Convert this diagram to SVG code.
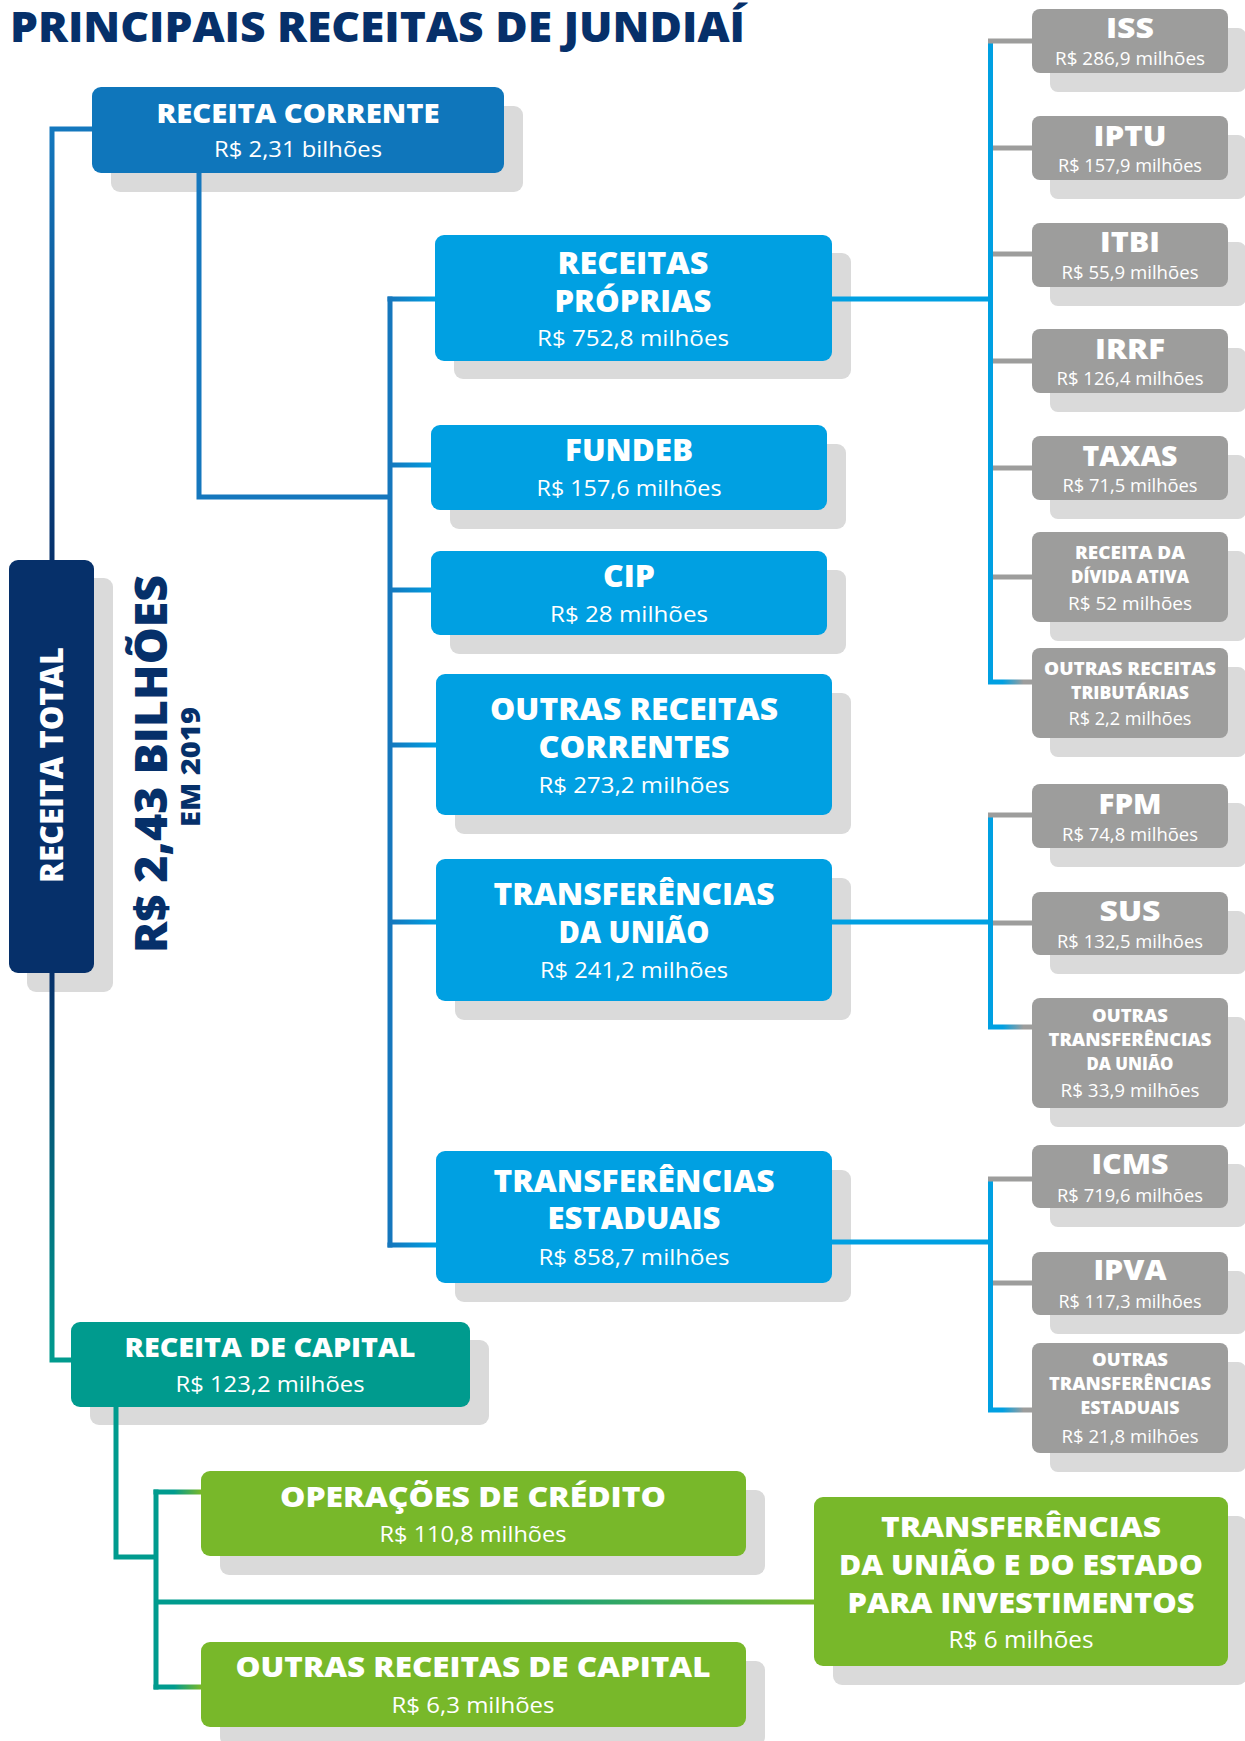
<svg xmlns="http://www.w3.org/2000/svg" width="1245" height="1741" viewBox="0 0 1245 1741">
  <defs>
    <linearGradient id="gMainTop" gradientUnits="userSpaceOnUse" x1="0" y1="129" x2="0" y2="561">
      <stop offset="0" stop-color="#1478be"/>
      <stop offset="1" stop-color="#06306a"/>
    </linearGradient>
    <linearGradient id="gMainBot" gradientUnits="userSpaceOnUse" x1="0" y1="973" x2="0" y2="1360">
      <stop offset="0" stop-color="#06306a"/>
      <stop offset="1" stop-color="#009b8e"/>
    </linearGradient>
    <linearGradient id="gBranch" gradientUnits="userSpaceOnUse" x1="390" y1="0" x2="436" y2="0">
      <stop offset="0" stop-color="#1577bd"/>
      <stop offset="1" stop-color="#00a0e2"/>
    </linearGradient>
    <linearGradient id="gGreenShort" gradientUnits="userSpaceOnUse" x1="156" y1="0" x2="201" y2="0">
      <stop offset="0.4" stop-color="#009b8e"/>
      <stop offset="1" stop-color="#78b82a"/>
    </linearGradient>
    <linearGradient id="gGreenLong" gradientUnits="userSpaceOnUse" x1="156" y1="0" x2="814" y2="0">
      <stop offset="0.5" stop-color="#009b8e"/>
      <stop offset="1" stop-color="#78b82a"/>
    </linearGradient>
    <linearGradient id="gGreyEnd" gradientUnits="userSpaceOnUse" x1="990" y1="0" x2="1032" y2="0">
      <stop offset="0.3" stop-color="#00a0e2"/>
      <stop offset="0.8" stop-color="#9d9d9c"/>
    </linearGradient>
    <style>
      .ln { fill: none; stroke-width: 5; stroke-linejoin: miter; stroke-linecap: butt; }
      .shadow { fill: #dadada; }
      .navy { fill: #06306a; }
      .corr { fill: #0f76bb; }
      .blue { fill: #00a0e2; }
      .grey { fill: #9d9d9c; }
      .teal { fill: #009b8e; }
      .green { fill: #78b82a; }
      text { font-family: "Open Sans", "Lato", "Liberation Sans", sans-serif; fill: #ffffff; text-anchor: middle; }
      .b { font-weight: 800; }
      .v { font-weight: 400; }
      .tb { font-size: 30px; }
      .tv { font-size: 22.5px; }
      .gb { font-size: 29px; }
      .gs { font-size: 18px; }
      .gv { font-size: 18.5px; }
      .dark { fill: #06306a; }
    </style>
  </defs>

  <!-- heading -->
  <text x="10" y="42" class="b dark" style="font-size:42px;text-anchor:start" textLength="735" lengthAdjust="spacingAndGlyphs">PRINCIPAIS RECEITAS DE JUNDIAÍ</text>

  <!-- total -->
  <g id="receita-total">
    <rect class="shadow" x="27" y="578" width="86" height="414" rx="9"/>
    <rect class="navy" x="9" y="560" width="85" height="413" rx="9"/>
    <text class="b" transform="translate(63,765) rotate(-90)" style="font-size:31px" textLength="236" lengthAdjust="spacingAndGlyphs">RECEITA TOTAL</text>
  </g>
  <g id="total-valor">
    <text class="b dark" transform="translate(167,764) rotate(-90)" style="font-size:44px" textLength="378" lengthAdjust="spacingAndGlyphs">R$ 2,43 BILHÕES</text>
    <text class="b dark" transform="translate(200,767) rotate(-90)" style="font-size:26px" textLength="120" lengthAdjust="spacingAndGlyphs">EM 2019</text>
  </g>

  <g id="receita-corrente">
    <rect class="shadow" x="111" y="106" width="412" height="86" rx="9"/>
    <rect class="corr" x="92" y="87" width="412" height="86" rx="9"/>
    <text class="b" x="298" y="123" style="font-size:27px" textLength="283" lengthAdjust="spacingAndGlyphs">RECEITA CORRENTE</text>
    <text class="v" x="298" y="157" style="font-size:22px" textLength="168" lengthAdjust="spacingAndGlyphs">R$ 2,31 bilhões</text>
  </g>

  <g id="receita-capital">
    <rect class="shadow" x="90" y="1340" width="399" height="85" rx="9"/>
    <rect class="teal" x="71" y="1322" width="399" height="85" rx="9"/>
    <text class="b" x="270" y="1357" style="font-size:27px" textLength="291" lengthAdjust="spacingAndGlyphs">RECEITA DE CAPITAL</text>
    <text class="v" x="270" y="1392" style="font-size:22px" textLength="189" lengthAdjust="spacingAndGlyphs">R$ 123,2 milhões</text>
  </g>

  <!-- current revenue branches -->
  <g id="receitas-proprias">
    <rect class="shadow" x="454" y="253" width="397" height="126" rx="9"/>
    <rect class="blue" x="435" y="235" width="397" height="126" rx="9"/>
    <text class="b tb" x="633" y="274" textLength="151" lengthAdjust="spacingAndGlyphs">RECEITAS</text>
    <text class="b tb" x="633" y="312" textLength="157" lengthAdjust="spacingAndGlyphs">PRÓPRIAS</text>
    <text class="v tv" x="633" y="346" textLength="192" lengthAdjust="spacingAndGlyphs">R$ 752,8 milhões</text>
  </g>
  <g id="fundeb">
    <rect class="shadow" x="450" y="444" width="396" height="85" rx="9"/>
    <rect class="blue" x="431" y="425" width="396" height="85" rx="9"/>
    <text class="b tb" x="629" y="461" textLength="128" lengthAdjust="spacingAndGlyphs">FUNDEB</text>
    <text class="v tv" x="629" y="496" textLength="185" lengthAdjust="spacingAndGlyphs">R$ 157,6 milhões</text>
  </g>
  <g id="cip">
    <rect class="shadow" x="450" y="570" width="396" height="84" rx="9"/>
    <rect class="blue" x="431" y="551" width="396" height="84" rx="9"/>
    <text class="b tb" x="629" y="587" textLength="52" lengthAdjust="spacingAndGlyphs">CIP</text>
    <text class="v tv" x="629" y="622" textLength="158" lengthAdjust="spacingAndGlyphs">R$ 28 milhões</text>
  </g>
  <g id="outras-receitas-correntes">
    <rect class="shadow" x="455" y="693" width="396" height="141" rx="9"/>
    <rect class="blue" x="436" y="674" width="396" height="141" rx="9"/>
    <text class="b tb" x="634" y="720" textLength="288" lengthAdjust="spacingAndGlyphs">OUTRAS RECEITAS</text>
    <text class="b tb" x="634" y="758" textLength="191" lengthAdjust="spacingAndGlyphs">CORRENTES</text>
    <text class="v tv" x="634" y="793" textLength="191" lengthAdjust="spacingAndGlyphs">R$ 273,2 milhões</text>
  </g>
  <g id="transferencias-uniao">
    <rect class="shadow" x="455" y="878" width="396" height="142" rx="9"/>
    <rect class="blue" x="436" y="859" width="396" height="142" rx="9"/>
    <text class="b tb" x="634" y="905" textLength="281" lengthAdjust="spacingAndGlyphs">TRANSFERÊNCIAS</text>
    <text class="b tb" x="634" y="943" textLength="151" lengthAdjust="spacingAndGlyphs">DA UNIÃO</text>
    <text class="v tv" x="634" y="978" textLength="188" lengthAdjust="spacingAndGlyphs">R$ 241,2 milhões</text>
  </g>
  <g id="transferencias-estaduais">
    <rect class="shadow" x="455" y="1170" width="396" height="132" rx="9"/>
    <rect class="blue" x="436" y="1151" width="396" height="132" rx="9"/>
    <text class="b tb" x="634" y="1192" textLength="281" lengthAdjust="spacingAndGlyphs">TRANSFERÊNCIAS</text>
    <text class="b tb" x="634" y="1229" textLength="173" lengthAdjust="spacingAndGlyphs">ESTADUAIS</text>
    <text class="v tv" x="634" y="1265" textLength="191" lengthAdjust="spacingAndGlyphs">R$ 858,7 milhões</text>
  </g>

  <!-- own revenue items -->
  <g id="iss">
    <rect class="shadow" x="1050" y="28" width="196" height="64" rx="8"/>
    <rect class="grey" x="1032" y="9" width="196" height="64" rx="8"/>
    <text class="b gb" x="1130" y="38" textLength="48" lengthAdjust="spacingAndGlyphs">ISS</text>
    <text class="v gv" x="1130" y="65" textLength="150" lengthAdjust="spacingAndGlyphs">R$ 286,9 milhões</text>
  </g>
  <g id="iptu">
    <rect class="shadow" x="1050" y="135" width="196" height="64" rx="8"/>
    <rect class="grey" x="1032" y="116" width="196" height="64" rx="8"/>
    <text class="b gb" x="1130" y="146" textLength="73" lengthAdjust="spacingAndGlyphs">IPTU</text>
    <text class="v gv" x="1130" y="172" textLength="144" lengthAdjust="spacingAndGlyphs">R$ 157,9 milhões</text>
  </g>
  <g id="itbi">
    <rect class="shadow" x="1050" y="242" width="196" height="64" rx="8"/>
    <rect class="grey" x="1032" y="223" width="196" height="64" rx="8"/>
    <text class="b gb" x="1130" y="252" textLength="60" lengthAdjust="spacingAndGlyphs">ITBI</text>
    <text class="v gv" x="1130" y="279" textLength="137" lengthAdjust="spacingAndGlyphs">R$ 55,9 milhões</text>
  </g>
  <g id="irrf">
    <rect class="shadow" x="1050" y="348" width="196" height="64" rx="8"/>
    <rect class="grey" x="1032" y="329" width="196" height="64" rx="8"/>
    <text class="b gb" x="1130" y="359" textLength="70" lengthAdjust="spacingAndGlyphs">IRRF</text>
    <text class="v gv" x="1130" y="385" textLength="147" lengthAdjust="spacingAndGlyphs">R$ 126,4 milhões</text>
  </g>
  <g id="taxas">
    <rect class="shadow" x="1050" y="455" width="196" height="64" rx="8"/>
    <rect class="grey" x="1032" y="436" width="196" height="64" rx="8"/>
    <text class="b gb" x="1130" y="466" textLength="95" lengthAdjust="spacingAndGlyphs">TAXAS</text>
    <text class="v gv" x="1130" y="492" textLength="135" lengthAdjust="spacingAndGlyphs">R$ 71,5 milhões</text>
  </g>
  <g id="divida-ativa">
    <rect class="shadow" x="1050" y="551" width="196" height="90" rx="8"/>
    <rect class="grey" x="1032" y="532" width="196" height="90" rx="8"/>
    <text class="b gs" x="1130" y="559" textLength="110" lengthAdjust="spacingAndGlyphs">RECEITA DA</text>
    <text class="b gs" x="1130" y="583" textLength="118" lengthAdjust="spacingAndGlyphs">DÍVIDA ATIVA</text>
    <text class="v gv" x="1130" y="610" textLength="124" lengthAdjust="spacingAndGlyphs">R$ 52 milhões</text>
  </g>
  <g id="outras-tributarias">
    <rect class="shadow" x="1050" y="667" width="196" height="90" rx="8"/>
    <rect class="grey" x="1032" y="648" width="196" height="90" rx="8"/>
    <text class="b gs" x="1130" y="675" textLength="172" lengthAdjust="spacingAndGlyphs">OUTRAS RECEITAS</text>
    <text class="b gs" x="1130" y="699" textLength="118" lengthAdjust="spacingAndGlyphs">TRIBUTÁRIAS</text>
    <text class="v gv" x="1130" y="725" textLength="123" lengthAdjust="spacingAndGlyphs">R$ 2,2 milhões</text>
  </g>

  <!-- federal transfer items -->
  <g id="fpm">
    <rect class="shadow" x="1050" y="803" width="196" height="64" rx="8"/>
    <rect class="grey" x="1032" y="784" width="196" height="64" rx="8"/>
    <text class="b gb" x="1130" y="814" textLength="63" lengthAdjust="spacingAndGlyphs">FPM</text>
    <text class="v gv" x="1130" y="841" textLength="136" lengthAdjust="spacingAndGlyphs">R$ 74,8 milhões</text>
  </g>
  <g id="sus">
    <rect class="shadow" x="1050" y="911" width="196" height="63" rx="8"/>
    <rect class="grey" x="1032" y="892" width="196" height="63" rx="8"/>
    <text class="b gb" x="1130" y="921" textLength="61" lengthAdjust="spacingAndGlyphs">SUS</text>
    <text class="v gv" x="1130" y="948" textLength="146" lengthAdjust="spacingAndGlyphs">R$ 132,5 milhões</text>
  </g>
  <g id="outras-transf-uniao">
    <rect class="shadow" x="1050" y="1017" width="196" height="110" rx="8"/>
    <rect class="grey" x="1032" y="998" width="196" height="110" rx="8"/>
    <text class="b gs" x="1130" y="1022" textLength="76" lengthAdjust="spacingAndGlyphs">OUTRAS</text>
    <text class="b gs" x="1130" y="1046" textLength="163" lengthAdjust="spacingAndGlyphs">TRANSFERÊNCIAS</text>
    <text class="b gs" x="1130" y="1070" textLength="87" lengthAdjust="spacingAndGlyphs">DA UNIÃO</text>
    <text class="v gv" x="1130" y="1097" textLength="139" lengthAdjust="spacingAndGlyphs">R$ 33,9 milhões</text>
  </g>

  <!-- state transfer items -->
  <g id="icms">
    <rect class="shadow" x="1050" y="1164" width="196" height="63" rx="8"/>
    <rect class="grey" x="1032" y="1145" width="196" height="63" rx="8"/>
    <text class="b gb" x="1130" y="1174" textLength="77" lengthAdjust="spacingAndGlyphs">ICMS</text>
    <text class="v gv" x="1130" y="1202" textLength="146" lengthAdjust="spacingAndGlyphs">R$ 719,6 milhões</text>
  </g>
  <g id="ipva">
    <rect class="shadow" x="1050" y="1271" width="196" height="63" rx="8"/>
    <rect class="grey" x="1032" y="1252" width="196" height="63" rx="8"/>
    <text class="b gb" x="1130" y="1280" textLength="73" lengthAdjust="spacingAndGlyphs">IPVA</text>
    <text class="v gv" x="1130" y="1308" textLength="143" lengthAdjust="spacingAndGlyphs">R$ 117,3 milhões</text>
  </g>
  <g id="outras-transf-estaduais">
    <rect class="shadow" x="1050" y="1362" width="196" height="110" rx="8"/>
    <rect class="grey" x="1032" y="1343" width="196" height="110" rx="8"/>
    <text class="b gs" x="1130" y="1366" textLength="76" lengthAdjust="spacingAndGlyphs">OUTRAS</text>
    <text class="b gs" x="1130" y="1390" textLength="162" lengthAdjust="spacingAndGlyphs">TRANSFERÊNCIAS</text>
    <text class="b gs" x="1130" y="1414" textLength="99" lengthAdjust="spacingAndGlyphs">ESTADUAIS</text>
    <text class="v gv" x="1130" y="1443" textLength="137" lengthAdjust="spacingAndGlyphs">R$ 21,8 milhões</text>
  </g>

  <!-- capital revenue items -->
  <g id="operacoes-credito">
    <rect class="shadow" x="220" y="1490" width="545" height="85" rx="9"/>
    <rect class="green" x="201" y="1471" width="545" height="85" rx="9"/>
    <text class="b" x="473" y="1507" style="font-size:28px" textLength="386" lengthAdjust="spacingAndGlyphs">OPERAÇÕES DE CRÉDITO</text>
    <text class="v" x="473" y="1542" style="font-size:22px" textLength="187" lengthAdjust="spacingAndGlyphs">R$ 110,8 milhões</text>
  </g>
  <g id="transf-investimentos">
    <rect class="shadow" x="833" y="1516" width="414" height="169" rx="9"/>
    <rect class="green" x="814" y="1497" width="414" height="169" rx="9"/>
    <text class="b" x="1021" y="1537" style="font-size:29px" textLength="280" lengthAdjust="spacingAndGlyphs">TRANSFERÊNCIAS</text>
    <text class="b" x="1021" y="1575" style="font-size:29px" textLength="364" lengthAdjust="spacingAndGlyphs">DA UNIÃO E DO ESTADO</text>
    <text class="b" x="1021" y="1613" style="font-size:29px" textLength="347" lengthAdjust="spacingAndGlyphs">PARA INVESTIMENTOS</text>
    <text class="v" x="1021" y="1648" style="font-size:23px" textLength="145" lengthAdjust="spacingAndGlyphs">R$ 6 milhões</text>
  </g>
  <g id="outras-receitas-capital">
    <rect class="shadow" x="220" y="1661" width="545" height="85" rx="9"/>
    <rect class="green" x="201" y="1642" width="545" height="85" rx="9"/>
    <text class="b" x="473" y="1677" style="font-size:28px" textLength="475" lengthAdjust="spacingAndGlyphs">OUTRAS RECEITAS DE CAPITAL</text>
    <text class="v" x="473" y="1713" style="font-size:22px" textLength="163" lengthAdjust="spacingAndGlyphs">R$ 6,3 milhões</text>
  </g>

  <!-- connectors, drawn over the drop shadows -->
  <g id="connectors">
    <path class="ln" stroke="url(#gMainTop)" d="M92,129 H52 V561"/>
    <path class="ln" stroke="url(#gMainBot)" d="M52,973 V1360 H71"/>
    <path class="ln" stroke="#1577bd" d="M199,173 V497 H392"/>
    <path class="ln" stroke="#1577bd" d="M390,296.5 V1247.5"/>
    <path class="ln" stroke="url(#gBranch)" d="M387.5,299 H435"/>
    <path class="ln" stroke="url(#gBranch)" d="M390,465 H431"/>
    <path class="ln" stroke="url(#gBranch)" d="M390,590 H431"/>
    <path class="ln" stroke="url(#gBranch)" d="M390,745 H436"/>
    <path class="ln" stroke="url(#gBranch)" d="M390,922 H436"/>
    <path class="ln" stroke="url(#gBranch)" d="M387.5,1245 H436"/>

    <path class="ln" stroke="#00a0e2" d="M832,299 H990"/>
    <path class="ln" stroke="#00a0e2" d="M832,922 H990"/>
    <path class="ln" stroke="#00a0e2" d="M832,1242 H990"/>

    <path class="ln" stroke="#00a0e2" d="M990.5,43 V684"/>
    <path class="ln" stroke="#00a0e2" d="M990.5,817 V1029"/>
    <path class="ln" stroke="#00a0e2" d="M990.5,1181 V1412"/>

    <path class="ln" stroke="#9d9d9c" d="M988,41 H1032"/>
    <path class="ln" stroke="#9d9d9c" d="M993,148 H1032"/>
    <path class="ln" stroke="#9d9d9c" d="M993,254 H1032"/>
    <path class="ln" stroke="#9d9d9c" d="M993,361 H1032"/>
    <path class="ln" stroke="#9d9d9c" d="M993,468 H1032"/>
    <path class="ln" stroke="#9d9d9c" d="M993,577 H1032"/>
    <path class="ln" stroke="url(#gGreyEnd)" d="M988,682 H1032"/>
    <path class="ln" stroke="#9d9d9c" d="M988,815 H1032"/>
    <path class="ln" stroke="#9d9d9c" d="M993,923 H1032"/>
    <path class="ln" stroke="url(#gGreyEnd)" d="M988,1027 H1032"/>
    <path class="ln" stroke="#9d9d9c" d="M988,1179 H1032"/>
    <path class="ln" stroke="#9d9d9c" d="M993,1283 H1032"/>
    <path class="ln" stroke="url(#gGreyEnd)" d="M988,1410 H1032"/>

    <path class="ln" stroke="#009b8e" d="M116,1407 V1557 H158"/>
    <path class="ln" stroke="#009b8e" d="M156,1489.5 V1689.5"/>
    <path class="ln" stroke="url(#gGreenShort)" d="M153.5,1492 H201"/>
    <path class="ln" stroke="url(#gGreenLong)" d="M156,1602 H814"/>
    <path class="ln" stroke="url(#gGreenShort)" d="M153.5,1687 H201"/>
  </g>
</svg>
